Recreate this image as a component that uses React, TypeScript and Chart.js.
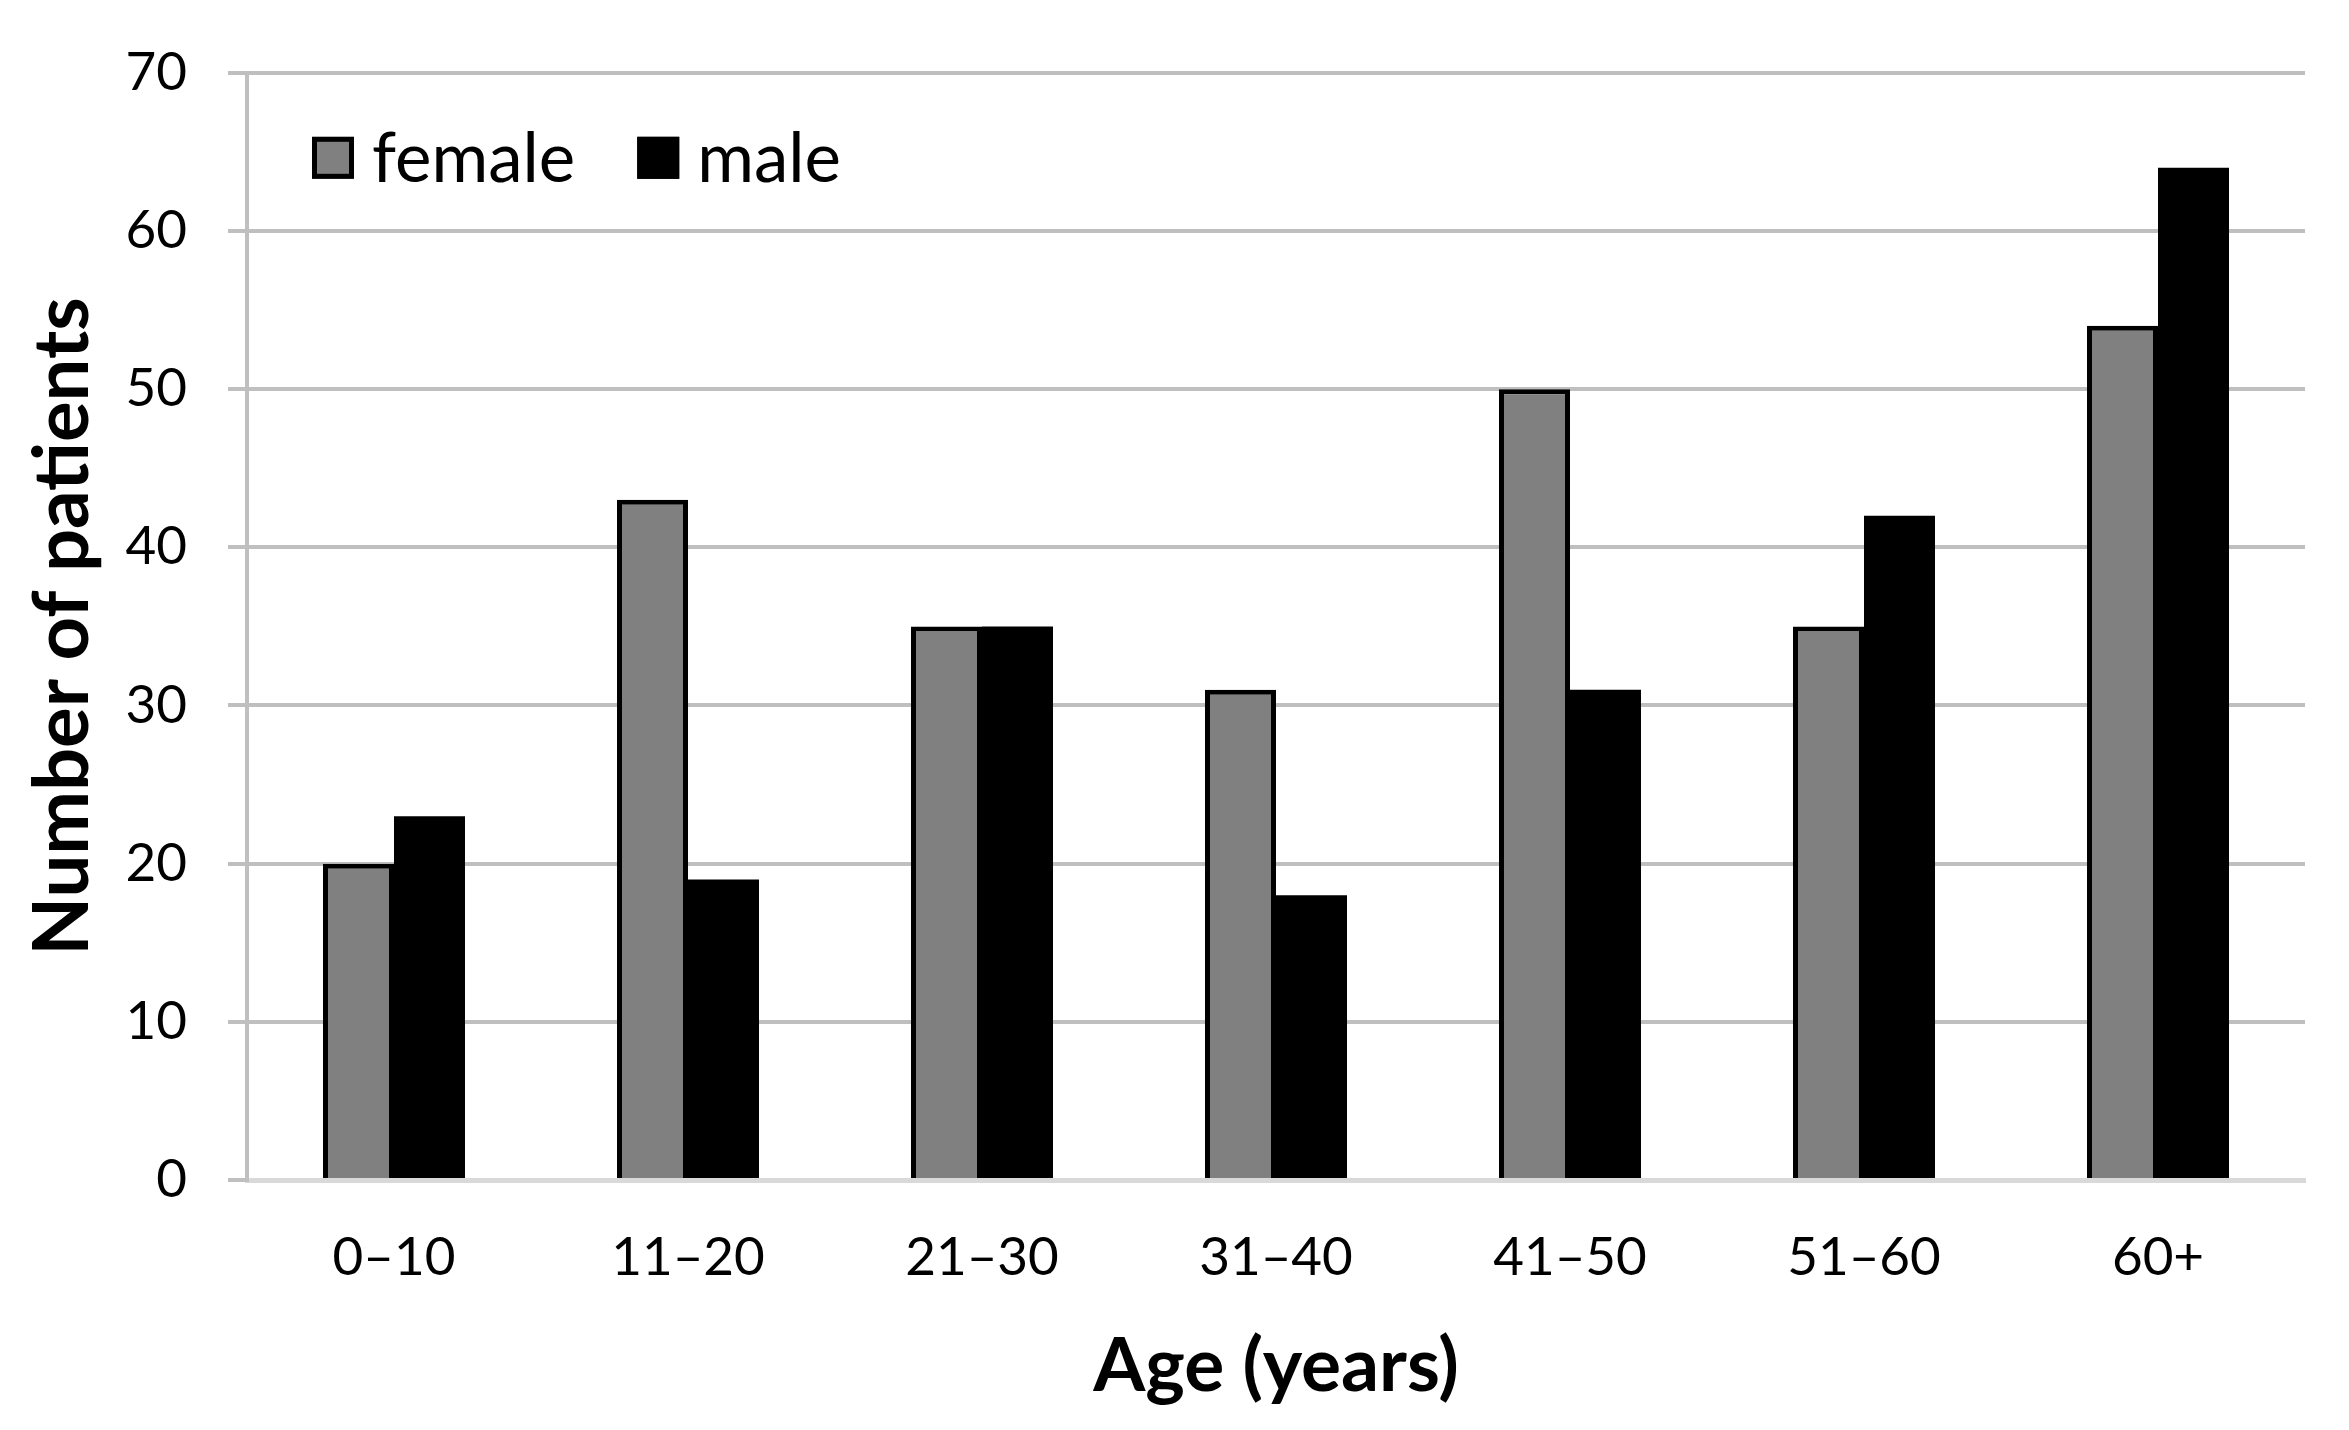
import React, { useEffect, useRef } from "react";
import { Chart, registerables } from "chart.js";

Chart.register(...registerables);

const categories = ["0–10", "11–20", "21–30", "31–40", "41–50", "51–60", "60+"];
const femaleValues = [20, 43, 35, 31, 50, 35, 54];
const maleValues = [23, 19, 35, 18, 31, 42, 64];
const yTickValues = [0, 10, 20, 30, 40, 50, 60, 70];
const seriesNames = ["female", "male"];
const xTitle = "Age (years)";
const yTitle = "Number of patients";

const insideLegend = {
  id: "insideLegend",
  afterDraw(chart: any) {
    const ctx = chart.ctx;
    const area = chart.chartArea;
    ctx.save();
    ctx.font = "69px Lato";
    ctx.textBaseline = "alphabetic";
    ctx.textAlign = "left";
    let x = area.left + 65;
    const boxTop = area.top + 64;
    const box = 42;
    chart.data.datasets.forEach((ds: any) => {
      ctx.fillStyle = ds.backgroundColor;
      ctx.fillRect(x, boxTop, box, box);
      ctx.lineWidth = 5;
      ctx.strokeStyle = "#000";
      ctx.strokeRect(x + 2.5, boxTop + 2.5, box - 5, box - 5);
      ctx.fillStyle = "#000";
      ctx.fillText(ds.label, x + box + 18, area.top + 109);
      x += box + 18 + ctx.measureText(ds.label).width + 62;
    });
    ctx.restore();
  },
};

export default function App() {
  const ref = useRef<HTMLCanvasElement | null>(null);

  useEffect(() => {
    document.body.style.margin = "0";
    document.body.style.overflow = "hidden";
    const canvas = ref.current;
    if (!canvas) return;
    const chart = new Chart(canvas, {
      type: "bar",
      data: {
        labels: categories,
        datasets: [
          {
            label: seriesNames[0],
            data: femaleValues,
            backgroundColor: "#808080",
            borderColor: "#000000",
            borderWidth: 5,
            borderSkipped: "bottom",
            categoryPercentage: 0.483,
            barPercentage: 1,
          },
          {
            label: seriesNames[1],
            data: maleValues,
            backgroundColor: "#000000",
            borderColor: "#000000",
            borderWidth: 0,
            categoryPercentage: 0.483,
            barPercentage: 1,
          },
        ],
      },
      options: {
        responsive: false,
        devicePixelRatio: 1,
        animation: false,
        layout: { padding: { left: 0, right: 44, top: 66, bottom: 0 } },
        plugins: {
          legend: { display: false },
          tooltip: { enabled: false },
        },
        scales: {
          x: {
            grid: { display: false, drawTicks: false },
            border: { display: true, color: "#d9d9d9", width: 5 },
            ticks: {
              color: "#000",
              font: { family: "Lato", size: 53 },
              padding: 46,
            },
            title: {
              display: true,
              text: xTitle,
              color: "#000",
              font: { family: "Lato", size: 75, weight: "bold" },
              padding: { top: 0, bottom: 18 },
            },
            afterFit: (s: any) => {
              s.height = 250;
            },
          },
          y: {
            min: 0,
            max: 70,
            afterBuildTicks: (s: any) => {
              s.ticks = yTickValues.map((v) => ({ value: v }));
            },
            grid: {
              color: (c: any) => (c.tick && c.tick.value === 0 ? "#d9d9d9" : "#bfbfbf"),
              tickColor: "#bfbfbf",
              lineWidth: 4,
              drawTicks: true,
              tickLength: 19,
            },
            border: { display: true, color: "#bfbfbf", width: 4 },
            ticks: {
              color: "#000",
              font: { family: "Lato", size: 53 },
              padding: 41,
            },
            title: {
              display: true,
              text: yTitle,
              color: "#000",
              font: { family: "Lato", size: 76, weight: "bold" },
              padding: { top: 18, bottom: 0 },
            },
            afterFit: (s: any) => {
              s.width = 247;
            },
          },
        },
      },
      plugins: [insideLegend],
    } as any);
    return () => chart.destroy();
  }, []);

  return (
    <div style={{ width: 2349, height: 1430, background: "#fff" }}>
      <canvas ref={ref} width={2349} height={1430} style={{ display: "block" }} />
    </div>
  );
}
